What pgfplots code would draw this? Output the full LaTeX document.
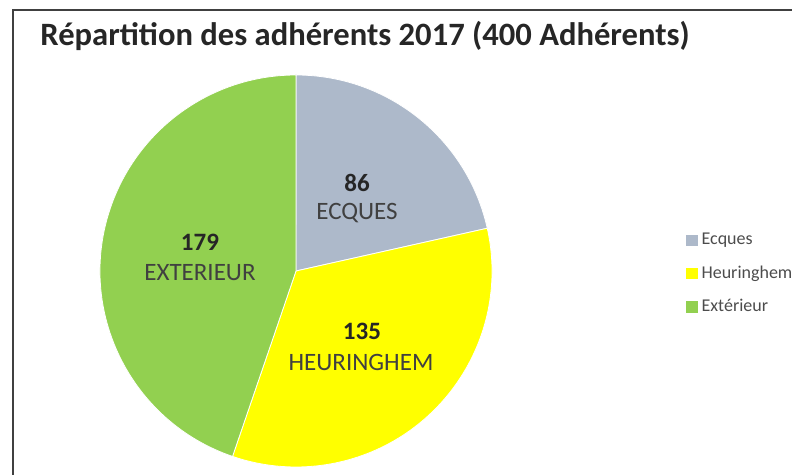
\documentclass[border=0pt]{standalone}
\usepackage{fontspec}
\setmainfont{Carlito}
\usepackage{pgfplots}
\usepackage{pgfplotstable}
\pgfplotsset{compat=1.18}

\definecolor{ecq}{RGB}{173,185,202}
\definecolor{heu}{RGB}{255,255,0}
\definecolor{ext}{RGB}{146,208,80}

% Répartition des adhérents 2017
\pgfplotstableread{
name value
Ecques 86
Heuringhem 135
Exterieur 179
}\adherents
\pgfplotstablegetelem{0}{value}\of\adherents \let\vA\pgfplotsretval
\pgfplotstablegetelem{1}{value}\of\adherents \let\vB\pgfplotsretval
\pgfplotstablegetelem{2}{value}\of\adherents \let\vC\pgfplotsretval
\pgfmathsetmacro\total{\vA+\vB+\vC}
% slices run clockwise from 12 o'clock
\pgfmathsetmacro\aA{90-360*(\vA/\total)}
\pgfmathsetmacro\aB{\aA-360*(\vB/\total)}
\pgfmathsetmacro\aC{\aB-360*(\vC/\total)}

\begin{document}
\begin{tikzpicture}
\begin{axis}[
    scale only axis,
    width=396pt, height=237.5pt,
    xmin=0, xmax=792, ymin=0, ymax=475,
    hide axis,
    clip=false,
    legend cell align=left,
    legend style={draw=none, fill=none, font=\fontsize{9}{10}\selectfont\color{black!70},
        at={(axis cs:686,201)}, anchor=west, row sep=5pt,
        inner sep=0pt},
    legend image code/.code={\fill[#1, draw=none] (0pt,-2.8pt) rectangle (5.6pt,2.8pt);},
]
\coordinate (sw) at (axis cs:0,0);
\coordinate (ne) at (axis cs:792,475);

% frame (right and bottom edges lie outside the picture)
\draw[black!75, line width=1pt] (axis cs:13,0) -- (axis cs:13,465) -- (axis cs:792,465);

\node[anchor=base west, font=\bfseries\fontsize{16.3}{18}\selectfont, text=black!85, inner sep=0pt]
    at (axis cs:40,429) {Répartition des adhérents 2017 (400 Adhérents)};

% pie slices
\fill[ecq, draw=white, line width=0.4pt] (axis cs:296,204) -- ++(90:98pt)
    arc[start angle=90, end angle=\aA, radius=98pt] -- cycle;
\fill[heu, draw=white, line width=0.4pt] (axis cs:296,204) -- ++(\aA:98pt)
    arc[start angle=\aA, end angle=\aB, radius=98pt] -- cycle;
\fill[ext, draw=white, line width=0.4pt] (axis cs:296,204) -- ++(\aB:98pt)
    arc[start angle=\aB, end angle=\aC, radius=98pt] -- cycle;

% slice labels
\node[font=\bfseries\fontsize{12.5}{13}\selectfont, text=black!85] at (axis cs:357,292) {\vA};
\node[font=\fontsize{12.5}{13}\selectfont, text=black!75] at (axis cs:357,262) {ECQUES};
\node[font=\bfseries\fontsize{12.5}{13}\selectfont, text=black!85] at (axis cs:362,144) {\vB};
\node[font=\fontsize{12.5}{13}\selectfont, text=black!75] at (axis cs:361,113) {HEURINGHEM};
\node[font=\bfseries\fontsize{12.5}{13}\selectfont, text=black!85] at (axis cs:200,233) {\vC};
\node[font=\fontsize{12.5}{13}\selectfont, text=black!75] at (axis cs:200,202) {EXTERIEUR};

\addlegendimage{fill=ecq}
\addlegendentry{Ecques}
\addlegendimage{fill=heu}
\addlegendentry{Heuringhem}
\addlegendimage{fill=ext}
\addlegendentry{Extérieur}
\end{axis}
\pgfresetboundingbox
\path (sw) rectangle (ne);
\end{tikzpicture}
\end{document}
